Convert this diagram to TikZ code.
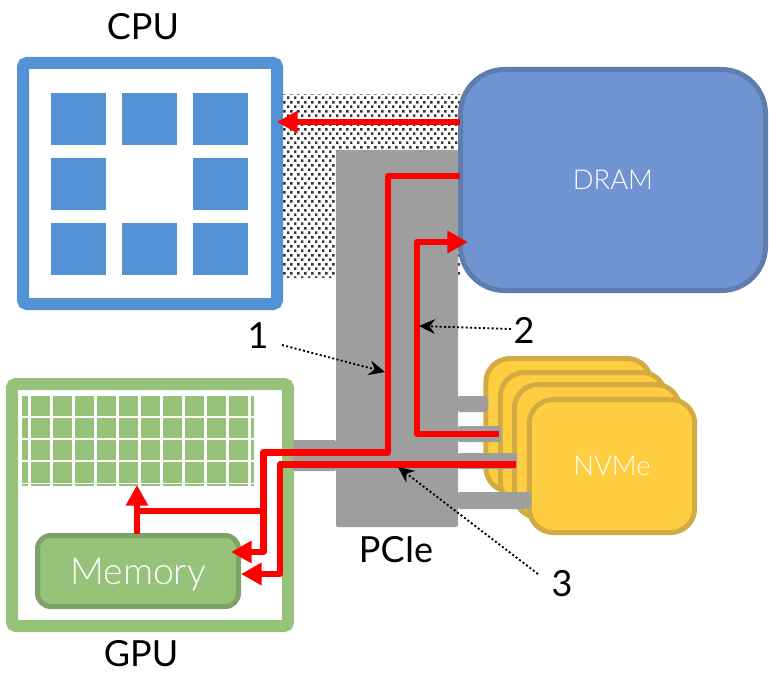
\documentclass[tikz,border=0pt]{standalone}
\usepackage{fontspec}
\setmainfont{Lato}
\newfontfamily\lightfont{Lato Light}
\usepackage{xcolor}
\usetikzlibrary{arrows.meta, patterns}
\definecolor{mycpu}{RGB}{83,146,213}
\definecolor{mydram}{RGB}{112,148,210}
\definecolor{mydramedge}{RGB}{94,125,175}
\definecolor{mygpu}{RGB}{151,194,121}
\definecolor{mymemedge}{RGB}{127,162,103}
\definecolor{mynvme}{RGB}{255,206,64}
\definecolor{mynvmeedge}{RGB}{210,172,66}
\definecolor{mybus}{RGB}{158,158,158}
\definecolor{myred}{RGB}{255,0,0}
\pgfdeclarepatternformonly{staggerdots}{\pgfqpoint{0pt}{0pt}}{\pgfqpoint{5.25pt}{6.9pt}}{\pgfqpoint{5.25pt}{6.9pt}}{
  \pgfpathrectangle{\pgfqpoint{0pt}{0pt}}{\pgfqpoint{2.1pt}{2.1pt}}
  \pgfpathrectangle{\pgfqpoint{2.625pt}{3.45pt}}{\pgfqpoint{2.1pt}{2.1pt}}
  \pgfusepath{fill}
}
\tikzset{
  cell/.style={rectangle, fill=mycpu, minimum width=41.25pt, minimum height=39pt,
    inner sep=0pt},
  cardbox/.style={rectangle, draw=mynvmeedge, fill=mynvme, line width=3.75pt,
    rounded corners=18pt, minimum width=124pt, minimum height=99.75pt,
    inner sep=0pt, font=\lightfont\fontsize{20.5}{24}\selectfont, text=white},
  bus/.style={fill=mybus, rounded corners=1.5pt},
  redline/.style={line width=4.9pt, color=myred, line join=round},
  redarrow/.style={redline, -{Triangle[length=15.5pt,width=16pt]}},
  pointer/.style={line width=1.4pt, color=black, dash pattern=on 1.5pt off 1.75pt,
    -{Stealth[length=12pt,width=11pt,inset=4pt]}},
  caption/.style={font=\fontsize{27}{32}\selectfont, text=black, inner sep=0pt}
}
\begin{document}
\begin{tikzpicture}[x=0.75pt, y=-0.75pt]
  \useasboundingbox (0,0) rectangle (769,674);
  % Dots behind the bus
  \fill[pattern=staggerdots, pattern color=black!80] (283,95) rectangle (460,278);
  % CPU
  \node (cpu) at (150,183.5) [rectangle, draw=mycpu, fill=white, line width=9pt,
    rounded corners=3pt, minimum width=190.5pt, minimum height=180.75pt] {};
  \foreach \row/\y in {a/119, c/249} {
    \foreach \col/\x in {l/78.5, m/149.5, r/220.5}
      \node (cell\row\col) at (\x,\y) [cell] {};
  }
  \node (cellbl) at (78.5,184) [cell] {};
  \node (cellbr) at (220.5,184) [cell] {};
  \node (cpulabel) at (143,26.5) [caption] {CPU};
  % PCIe
  \fill[bus] (336,150) rectangle (458,527);
  \node (pcielabel) at (396,550) [caption] {PCIe};
  % GPU
  \node (gpu) at (150,505) [rectangle, draw=mygpu, fill=white, line width=9pt,
    rounded corners=3pt, minimum width=207pt, minimum height=181.5pt] {};
  \fill[mygpu] (22,396) rectangle (254,486);
  \foreach \x in {29.5,51.5,...,250}
    \draw[white, line width=1.8pt] (\x,396) -- (\x,486);
  \foreach \y in {417,439,461,483.5}
    \draw[white, line width=1.3pt] (22,\y) -- (254,\y);
  \node (gpulabel) at (141,654) [caption] {GPU};
  \node (memory) at (138,571) [rectangle, draw=mymemedge, fill=mygpu, line width=3.75pt,
    rounded corners=10pt, minimum width=150.75pt, minimum height=53.25pt, text=white,
    text depth=0pt, font=\lightfont\fontsize{28}{34}\selectfont] {Memory};
  % GPU link
  \fill[bus] (293,440) rectangle (336,471);
  % DRAM
  \node (dram) at (613,180) [rectangle, draw=mydramedge, fill=mydram, line width=3.75pt,
    rounded corners=33pt, minimum width=228.75pt, minimum height=165.75pt, text=white,
    font=\lightfont\fontsize{20.5}{24}\selectfont] {DRAM};
  % NVMe
  \node (carda) at (568.5,425) [cardbox] {};
  \node (cardb) at (583,439) [cardbox] {};
  \node (cardc) at (597,451) [cardbox] {};
  \node (cardd) at (612,466) [cardbox] {NVMe};
  \fill[bus] (458,396) rectangle (488,412);
  \fill[bus] (458,426) rectangle (501,442);
  \fill[bus] (458,453) rectangle (517,469);
  \fill[bus] (458,492) rectangle (531,509);
  % Route ends
  \coordinate (dramtop) at (460,122);
  \coordinate (cputip) at (277,122);
  \coordinate (dramlow) at (460,176);
  \coordinate (turna) at (388,176);
  \coordinate (turnb) at (388,452.5);
  \coordinate (turnc) at (263.5,452.5);
  \coordinate (turnd) at (263.5,552);
  \coordinate (memtipa) at (231,552);
  \coordinate (branch) at (263.5,511);
  \coordinate (branchb) at (137,511);
  \coordinate (memtop) at (137,534);
  \coordinate (gridtip) at (137,485);
  \coordinate (carde) at (499,434);
  \coordinate (turne) at (417,434);
  \coordinate (turnf) at (417,242);
  \coordinate (dramtip) at (468,242);
  \coordinate (cardf) at (516,464.5);
  \coordinate (turng) at (280,464.5);
  \coordinate (turnh) at (280,574);
  \coordinate (memtipb) at (241,574);
  % Red routes
  \draw[redarrow] (dramtop) -- (cputip);
  \draw[redarrow] (dramlow) -- (turna) -- (turnb) -- (turnc) -- (turnd) -- (memtipa);
  \draw[redline] (branch) -- (branchb);
  \draw[redarrow] (memtop) -- (gridtip);
  \draw[redarrow] (carde) -- (turne) -- (turnf) -- (dramtip);
  \draw[redarrow] (cardf) -- (turng) -- (turnh) -- (memtipb);
  % Callouts
  \node (labela) at (258,336) [caption] {1};
  \node (labelb) at (524,330) [caption] {2};
  \node (labelc) at (562,584) [caption] {3};
  \coordinate (tipa) at (385,372);
  \coordinate (tipb) at (419,326);
  \coordinate (tipc) at (398,467);
  \coordinate (taila) at (282,345);
  \coordinate (tailb) at (511,329);
  \coordinate (tailc) at (538,574);
  \draw[pointer] (taila) -- (tipa);
  \draw[pointer] (tailb) -- (tipb);
  \draw[pointer] (tailc) -- (tipc);
\end{tikzpicture}
\end{document}
